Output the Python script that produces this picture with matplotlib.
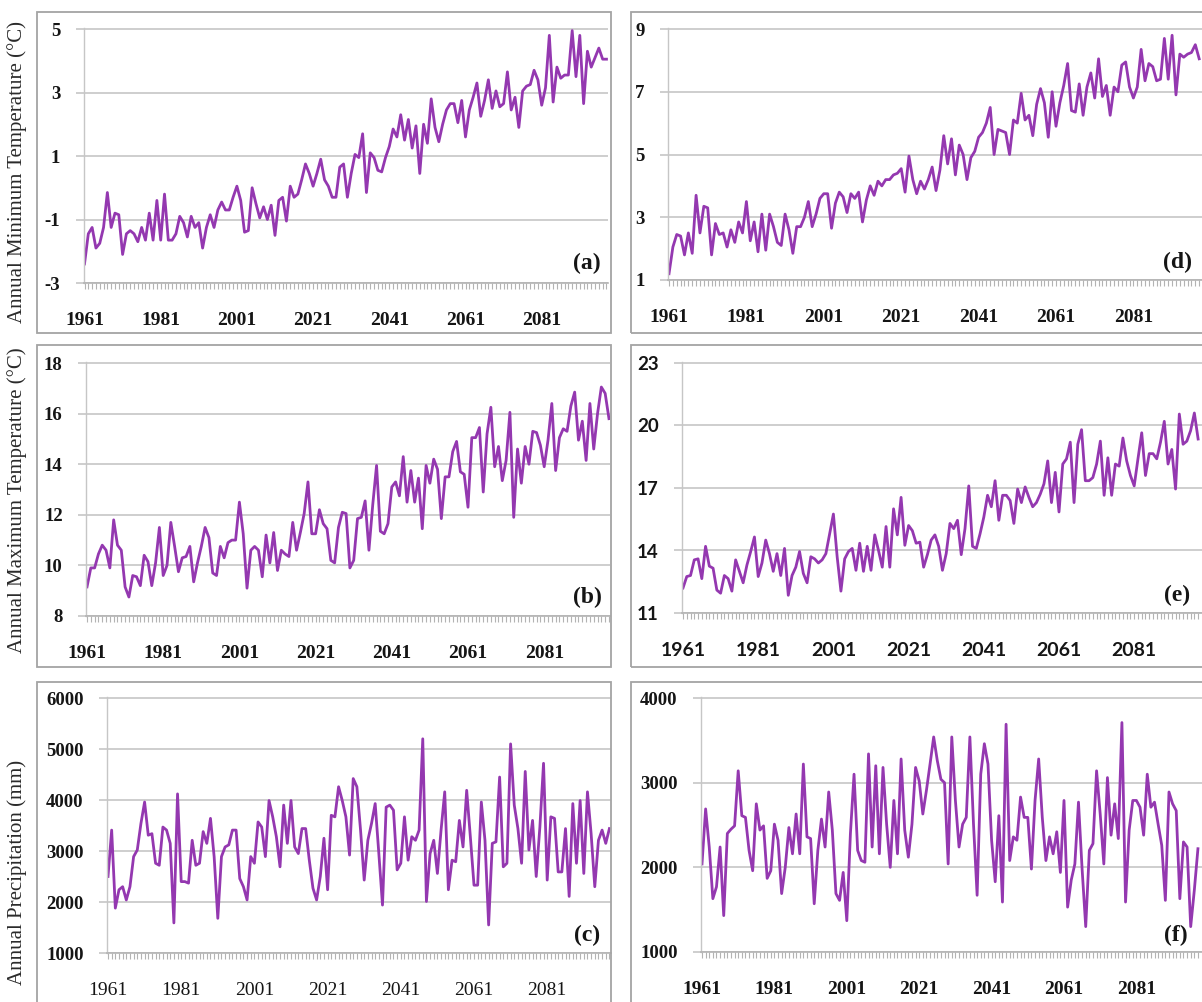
import matplotlib.pyplot as plt
import numpy as np
from matplotlib.patches import Rectangle

plt.rcParams["axes.unicode_minus"] = False

# annual series 1961-2098
years = np.arange(1961, 2099)

tmin_a = [
    -2.4, -1.45, -1.25, -1.9, -1.75, -1.25, -0.15, -1.25, -0.8, -0.85,
    -2.1, -1.45, -1.35, -1.45, -1.7, -1.25, -1.65, -0.8, -1.65, -0.4,
    -1.65, -0.2, -1.65, -1.65, -1.45, -0.9, -1.1, -1.55, -0.9, -1.25,
    -1.1, -1.9, -1.25, -0.85, -1.25, -0.7, -0.45, -0.7, -0.7, -0.3,
    0.05, -0.4, -1.4, -1.35, 0.0, -0.5, -0.95, -0.6, -1.0, -0.55,
    -1.5, -0.4, -0.3, -1.05, 0.05, -0.3, -0.2, 0.25, 0.75, 0.45,
    0.05, 0.45, 0.9, 0.25, 0.05, -0.3, -0.3, 0.65, 0.75, -0.3,
    0.45, 1.05, 0.95, 1.7, -0.15, 1.1, 0.95, 0.55, 0.5, 0.95,
    1.3, 1.85, 1.6, 2.3, 1.5, 2.15, 1.25, 1.95, 0.45, 2.0,
    1.4, 2.8, 1.9, 1.45, 2.0, 2.45, 2.65, 2.65, 2.05, 2.75,
    1.6, 2.45, 2.85, 3.3, 2.25, 2.75, 3.4, 2.5, 3.05, 2.55,
    2.65, 3.65, 2.45, 2.85, 1.9, 3.05, 3.2, 3.25, 3.7, 3.4,
    2.6, 3.15, 4.8, 2.7, 3.8, 3.45, 3.55, 3.55, 4.95, 3.5,
    4.8, 2.65, 4.3, 3.8, 4.1, 4.4, 4.05, 4.05,
]

tmax_b = [
    9.15, 9.9, 9.9, 10.45, 10.8, 10.6, 9.9, 11.8, 10.8, 10.6,
    9.15, 8.75, 9.6, 9.55, 9.2, 10.4, 10.15, 9.2, 10.1, 11.5,
    9.6, 10.0, 11.7, 10.75, 9.75, 10.3, 10.35, 10.75, 9.35, 10.1,
    10.75, 11.5, 11.1, 9.7, 9.6, 10.75, 10.3, 10.9, 11.0, 11.0,
    12.5, 11.25, 9.1, 10.6, 10.75, 10.6, 9.55, 11.2, 10.1, 11.3,
    9.8, 10.6, 10.45, 10.35, 11.7, 10.6, 11.3, 12.05, 13.3, 11.25,
    11.25, 12.2, 11.65, 11.45, 10.2, 10.1, 11.5, 12.1, 12.05, 9.9,
    10.2, 11.85, 11.9, 12.55, 10.6, 12.4, 13.95, 11.35, 11.25, 11.65,
    13.1, 13.3, 12.75, 14.3, 12.5, 13.75, 12.5, 13.45, 11.45, 13.95,
    13.25, 14.2, 13.8, 11.85, 13.5, 13.5, 14.5, 14.9, 13.7, 13.6,
    12.3, 15.05, 15.05, 15.45, 12.9, 15.2, 16.25, 13.9, 14.7, 13.35,
    14.15, 16.05, 11.9, 14.6, 13.25, 14.7, 14.0, 15.3, 15.25, 14.75,
    13.9, 14.95, 16.4, 13.75, 15.05, 15.4, 15.3, 16.3, 16.85, 14.95,
    15.7, 14.15, 16.4, 14.6, 16.0, 17.05, 16.8, 15.8,
]

prec_c = [
    2500, 3410, 1880, 2240, 2300, 2040, 2300, 2890, 3020, 3540,
    3960, 3310, 3340, 2760, 2720, 3470, 3410, 3150, 1590, 4120,
    2400, 2400, 2370, 3210, 2720, 2760, 3380, 3150, 3640, 2890,
    1680, 2890, 3080, 3120, 3410, 3410, 2460, 2300, 2040, 2890,
    2760, 3570, 3470, 2890, 3990, 3670, 3280, 2690, 3900, 3150,
    3990, 3080, 2950, 3440, 3440, 2820, 2270, 2040, 2500, 3250,
    2240, 3700, 3670, 4260, 3990, 3670, 2920, 4420, 4260, 3410,
    2430, 3210, 3540, 3930, 2950, 1940, 3860, 3900, 3800, 2630,
    2760, 3670, 2820, 3280, 3210, 3410, 5200, 2010, 2950, 3210,
    2560, 3410, 4160, 2240, 2820, 2790, 3600, 3080, 4190, 3280,
    2330, 2330, 3960, 3210, 1550, 3150, 3180, 4450, 2690, 2760,
    5100, 3900, 3440, 2760, 4560, 3020, 3600, 2500, 3470, 4720,
    2430, 3670, 3640, 2590, 2590, 3440, 2110, 3930, 2760, 3990,
    2560, 4160, 3340, 2300, 3210, 3410, 3150, 3440,
]

tmin_d = [
    1.2, 2.05, 2.45, 2.4, 1.8, 2.5, 1.85, 3.7, 2.5, 3.35,
    3.3, 1.8, 2.8, 2.45, 2.5, 2.05, 2.6, 2.2, 2.85, 2.5,
    3.5, 2.25, 2.85, 1.9, 3.1, 1.95, 3.1, 2.7, 2.2, 2.1,
    3.1, 2.6, 1.85, 2.7, 2.7, 3.0, 3.5, 2.7, 3.1, 3.6,
    3.75, 3.75, 2.65, 3.45, 3.8, 3.65, 3.15, 3.75, 3.6, 3.8,
    2.85, 3.55, 4.0, 3.7, 4.15, 4.0, 4.2, 4.2, 4.35, 4.4,
    4.55, 3.8, 4.95, 4.2, 3.75, 4.15, 3.9, 4.2, 4.6, 3.85,
    4.5, 5.6, 4.7, 5.5, 4.35, 5.3, 5.0, 4.2, 4.9, 5.1,
    5.55, 5.7, 6.0, 6.5, 5.0, 5.8, 5.75, 5.7, 5.0, 6.1,
    6.0, 6.95, 6.1, 6.25, 5.6, 6.6, 7.1, 6.65, 5.55, 7.0,
    5.9, 6.65, 7.2, 7.9, 6.4, 6.35, 7.25, 6.25, 7.15, 7.6,
    6.8, 8.05, 6.85, 7.2, 6.25, 7.15, 7.0, 7.85, 7.95, 7.15,
    6.8, 7.15, 8.35, 7.35, 7.9, 7.8, 7.35, 7.4, 8.7, 7.4,
    8.8, 6.9, 8.2, 8.1, 8.2, 8.25, 8.5, 8.05,
]

tmax_e = [
    12.2, 12.75, 12.8, 13.55, 13.6, 12.65, 14.2, 13.25, 13.15, 12.1,
    11.95, 12.8, 12.65, 12.05, 13.55, 13.0, 12.45, 13.3, 13.95, 14.65,
    12.75, 13.4, 14.5, 13.85, 13.0, 13.85, 12.8, 14.1, 11.85, 12.8,
    13.2, 13.95, 12.9, 12.45, 13.7, 13.6, 13.4, 13.55, 13.85, 14.8,
    15.75, 13.7, 12.05, 13.6, 13.95, 14.1, 13.05, 14.35, 13.0, 14.2,
    13.05, 14.75, 14.0, 13.2, 15.15, 13.2, 16.0, 14.75, 16.55, 14.25,
    15.2, 14.95, 14.35, 14.4, 13.2, 13.8, 14.5, 14.75, 14.2, 13.05,
    13.85, 15.3, 15.05, 15.45, 13.8, 15.05, 17.1, 14.2, 14.1, 14.8,
    15.6, 16.65, 16.1, 17.35, 15.45, 16.65, 16.65, 16.4, 15.3, 16.95,
    16.3, 17.05, 16.55, 16.1, 16.3, 16.7, 17.2, 18.3, 16.3, 17.75,
    15.85, 18.15, 18.4, 19.2, 16.3, 19.1, 19.8, 17.35, 17.35, 17.5,
    18.15, 19.25, 16.65, 18.45, 16.65, 18.15, 18.05, 19.4, 18.3, 17.6,
    17.1, 18.4, 19.65, 17.6, 18.65, 18.65, 18.4, 19.2, 20.2, 18.15,
    18.85, 16.95, 20.55, 19.1, 19.25, 19.75, 20.6, 19.35,
]

prec_f = [
    2040, 2690, 2240, 1630, 1770, 2240, 1430, 2400, 2450, 2490,
    3140, 2610, 2590, 2200, 1960, 2750, 2440, 2490, 1870, 1960,
    2510, 2320, 1690, 2000, 2470, 2160, 2630, 2160, 3220, 2360,
    2340, 1570, 2200, 2570, 2240, 2890, 2440, 1690, 1610, 1940,
    1370, 2400, 3100, 2200, 2080, 2060, 3340, 2240, 3200, 2160,
    3180, 2510, 2000, 2790, 2160, 3280, 2440, 2120, 2510, 3180,
    3020, 2630, 2910, 3220, 3540, 3260, 3040, 3000, 2040, 3540,
    2790, 2240, 2510, 2590, 3540, 2510, 1670, 3100, 3460, 3220,
    2320, 1830, 2610, 1590, 3690, 2080, 2360, 2320, 2830, 2590,
    2590, 1980, 2790, 3280, 2590, 2080, 2360, 2160, 2420, 1940,
    2790, 1530, 1850, 2040, 2770, 1980, 1300, 2200, 2280, 3140,
    2630, 2040, 3060, 2380, 2750, 2340, 3710, 1590, 2440, 2790,
    2790, 2710, 2380, 3100, 2710, 2770, 2510, 2260, 1610, 2890,
    2750, 2670, 1630, 2300, 2240, 1300, 1730, 2220,
]

year_labels = [1961, 1981, 2001, 2021, 2041, 2061, 2081]

W, H = 1202, 1002
LINE = "#9438b0"
GRID = "#c6c6c6"
AXIS = "#b3b3b3"
BOX = "#a4a4a4"
SERIF = "Liberation Serif"

fig = plt.figure(figsize=(W / 100, H / 100), dpi=100)
fig.patch.set_facecolor("white")

# panel frames (pixels: left, top, right, bottom)
frames = [
    (37, 12, 611, 333), (37, 345, 611, 667), (37, 682, 611, 1012),
    (631, 12, 1216, 333), (631, 345, 1216, 667), (631, 682, 1216, 1012),
]
for l, t, r, b in frames:
    fig.patches.append(Rectangle((l / W, 1 - b / H), (r - l) / W, (b - t) / H,
                                 transform=fig.transFigure, fill=False,
                                 edgecolor=BOX, linewidth=1.3))

panels = [
    dict(vals=tmin_a, ylim=(-3, 5), yticks=[-3, -1, 1, 3, 5], x0=84.5, ppy=3.81,
         top=28, bottom=283, xr=2098.4, tag="(a)", tag_xy=(587, 263),
         font=SERIF, xweight="bold"),
    dict(vals=tmax_b, ylim=(8, 18), yticks=[8, 10, 12, 14, 16, 18], x0=87, ppy=3.81,
         top=362, bottom=616, xr=2098.4, tag="(b)", tag_xy=(587, 597),
         font=SERIF, xweight="bold"),
    dict(vals=prec_c, ylim=(1000, 6000), yticks=[1000, 2000, 3000, 4000, 5000, 6000],
         x0=108, ppy=3.66, top=697, bottom=953, xr=2098.4, tag="(c)", tag_xy=(587, 935),
         font=SERIF, xweight="normal"),
    dict(vals=tmin_d, ylim=(1, 9), yticks=[1, 3, 5, 7, 9], x0=669, ppy=3.87,
         top=28, bottom=280, xr=2102, tag="(d)", tag_xy=(1178, 262),
         font=SERIF, xweight="bold"),
    dict(vals=tmax_e, ylim=(11, 23), yticks=[11, 14, 17, 20, 23], x0=683, ppy=3.76,
         top=362, bottom=613, xr=2102, tag="(e)", tag_xy=(1177, 595),
         font="Lato", xweight="bold"),
    dict(vals=prec_f, ylim=(1000, 4000), yticks=[1000, 2000, 3000, 4000], x0=702, ppy=3.62,
         top=697, bottom=952, xr=2102, tag="(f)", tag_xy=(1176, 935),
         font=SERIF, xweight="bold"),
]

xl = 1960.8
for p in panels:
    left = p["x0"] + (xl - 1961) * p["ppy"]
    right = p["x0"] + (p["xr"] - 1961) * p["ppy"]
    ax = fig.add_axes([left / W, 1 - p["bottom"] / H,
                       (right - left) / W, (p["bottom"] - p["top"]) / H])
    ax.plot(years, p["vals"], color=LINE, lw=2.0)
    lo, hi = p["ylim"]
    ax.set_xlim(xl, p["xr"])
    ax.set_ylim(lo, hi + (hi - lo) * 0.004)
    ax.set_yticks(p["yticks"])
    ax.set_xticks(year_labels)
    ax.set_xticks(years, minor=True)
    ax.grid(axis="y", color=GRID, lw=1.2)
    ax.set_axisbelow(True)
    for s in ("top", "right"):
        ax.spines[s].set_visible(False)
    ax.spines["left"].set_color(GRID)
    ax.spines["bottom"].set_color(AXIS)
    ax.spines["left"].set_linewidth(1.0)
    ax.spines["bottom"].set_linewidth(1.2)
    ax.tick_params(axis="y", direction="out", length=6, color=GRID, width=1.2, pad=11)
    ax.tick_params(axis="x", which="both", direction="out", length=4, color=AXIS, width=0.8)
    ax.tick_params(axis="x", which="major", pad=17)
    for lab in ax.get_yticklabels():
        lab.set_fontfamily(p["font"])
        lab.set_fontweight("bold")
        lab.set_fontsize(13.5)
        lab.set_color("#151515")
    for lab in ax.get_xticklabels():
        lab.set_fontfamily(p["font"])
        lab.set_fontweight(p["xweight"])
        lab.set_fontsize(14)
        lab.set_color("#151515")
    tx, ty = p["tag_xy"]
    fig.text(tx / W, 1 - ty / H, p["tag"], ha="center", va="center",
             fontfamily=SERIF, fontweight="bold", fontsize=17, color="#151515")

ylabels = [
    ("Annual Minimum Temperature (\u00b0C)", 172),
    ("Annual Maximum Temperature (\u00b0C)", 500),
    ("Annual Precipitation (mm)", 872),
]
for text, yc in ylabels:
    fig.text(17 / W, 1 - yc / H, text, rotation=90, ha="center", va="center",
             fontfamily=SERIF, fontsize=15, color="#2a2a2a")

fig.savefig("out.png", dpi=100)
